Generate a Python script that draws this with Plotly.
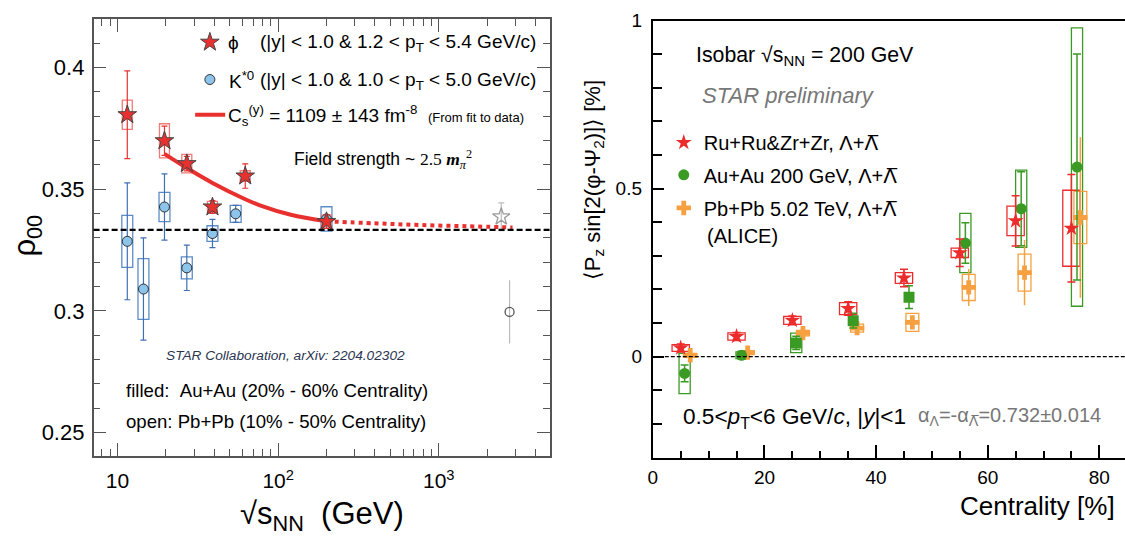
import plotly.graph_objects as go

FONT = "Liberation Sans, Arial, Helvetica, sans-serif"

# ---------------- data: left panel (rho00 vs sqrt(s_NN)) ----------------
phi_energy = [11.5, 19.6, 27, 39, 62.4, 200]
phi_rho = [0.3806, 0.3699, 0.3605, 0.3427, 0.3554, 0.3367]
phi_stat = [0.018, 0.006, 0.003, 0.0026, 0.005, 0.0028]
phi_sys = [0.006, 0.007, 0.0038, 0.0023, 0.0022, 0.0027]

kst_energy = [11.5, 14.5, 19.6, 27, 39, 54.4, 200]
kst_rho = [0.3286, 0.3090, 0.3427, 0.3177, 0.3318, 0.3399, 0.3378]
kst_stat = [0.024, 0.021, 0.0136, 0.0093, 0.0058, 0.0035, 0.0015]
kst_sys = [0.0107, 0.0125, 0.006, 0.0045, 0.0032, 0.0035, 0.005]

alice_phi_energy = [2450]
alice_phi_rho = [0.3387]
alice_phi_stat = [0.0057]

alice_kst_energy = [2760]
alice_kst_rho = [0.2996]
alice_kst_stat = [0.013]

fit_energy = [19.6, 27, 39, 62.4, 77, 120, 200]
fit_rho = [0.3645, 0.3587, 0.3526, 0.3459, 0.3434, 0.3395, 0.3368]
fit_ext_energy = [200, 400, 760, 1500, 2880]
fit_ext_rho = [0.3368, 0.3360, 0.3353, 0.3348, 0.3343]

left_xticks = [10, 100, 1000]
left_xticktext = ["10", "10<sup>2</sup>", "10<sup>3</sup>"]
left_yticks = [0.25, 0.3, 0.35, 0.4]
left_yticktext = ["0.25", "0.3", "0.35", "0.4"]

# ---------------- data: right panel (P_z vs centrality) ----------------
cent_ru = [5, 15, 25, 35, 45, 55, 65, 75]
pz_ru = [0.026, 0.060, 0.108, 0.143, 0.234, 0.309, 0.404, 0.382]
pz_ru_stat = [0.012, 0.012, 0.013, 0.02, 0.026, 0.041, 0.075, 0.16]
pz_ru_sys = [0.010, 0.011, 0.012, 0.018, 0.016, 0.014, 0.044, 0.113]

cent_au = [5.7, 15.9, 25.7, 35.9, 45.9, 56, 66, 76]
pz_au = [-0.050, 0.004, 0.041, 0.107, 0.177, 0.338, 0.440, 0.564]
pz_au_stat = [0.025, 0.012, 0.02, 0.022, 0.034, 0.06, 0.11, 0.336]
pz_au_sys = [0.06, 0.01, 0.029, 0.0, 0.0, 0.088, 0.115, 0.414]
au_symbols = ["circle", "circle", "square", "square", "square", "circle", "circle", "circle"]

cent_pb = [6.7, 17.0, 26.9, 36.6, 46.5, 56.6, 66.6, 76.6]
pz_pb = [0.004, 0.012, 0.070, 0.085, 0.102, 0.206, 0.250, 0.414]
pz_pb_stat = [0.008, 0.008, 0.01, 0.01, 0.012, 0.055, 0.097, 0.239]
pz_pb_sys = [0.006, 0.006, 0.008, 0.012, 0.027, 0.039, 0.055, 0.0775]

right_xticks = [0, 20, 40, 60, 80]
right_yticks = [0, 0.5, 1]
right_yticktext = ["0", "0.5", "1"]

# ---------------- styles ----------------
RED = "#e8312f"
RED_BOX = "#f07a78"
BLUE_FILL = "#8cc4ec"
BLUE = "#3f6fb2"
BLUE_BOX = "#5b8cc8"
GRAY = "#9a9a9a"

R_RED = "#ec2c2c"
R_GREEN = "#3b9a23"
R_ORANGE = "#f6a040"

W, H = 1125, 537
L_DOM_X = [89 / W, 547 / W]
L_DOM_Y = [1 - 454 / H, 1 - 9 / H]
R_DOM_X = [650.7 / W, 1.0]
R_DOM_Y = [1 - 456 / H, 1 - 10.7 / H]

LBAR = "<span style='font-family:DejaVu Sans'>Λ\u0305</span>"

fig = go.Figure()


def add_boxes(xs, ys, sy, halfw, color, xref, yref, log=False, width=1.3):
    for x, y, s in zip(xs, ys, sy):
        if s <= 0:
            continue
        if log:
            x0, x1 = x * 10 ** (-halfw), x * 10 ** halfw
        else:
            x0, x1 = x - halfw, x + halfw
        fig.add_shape(type="rect", xref=xref, yref=yref,
                      x0=x0, x1=x1, y0=y - s, y1=y + s,
                      line=dict(color=color, width=width),
                      fillcolor="rgba(0,0,0,0)", layer="below")


# ---- left panel ----
add_boxes(kst_energy, kst_rho, kst_sys, 0.034, BLUE_BOX, "x", "y", log=True)
add_boxes(phi_energy, phi_rho, phi_sys, 0.031, RED_BOX, "x", "y", log=True)

fig.add_shape(type="line", xref="x domain", yref="y", x0=0, x1=1, y0=1 / 3, y1=1 / 3,
              line=dict(color="black", width=2.2, dash="6px,3px"))

fig.add_trace(go.Scatter(
    x=kst_energy, y=kst_rho, mode="markers", xaxis="x", yaxis="y",
    error_y=dict(type="data", array=kst_stat, color=BLUE, thickness=1.2, width=3),
    marker=dict(symbol="circle", size=10, color=BLUE_FILL, line=dict(color="#333", width=1)),
    name="\u00a0", legend="legend2"))

fig.add_trace(go.Scatter(
    x=fit_energy, y=fit_rho, mode="lines", xaxis="x", yaxis="y", line_shape="spline",
    line=dict(color=RED, width=4), name="\u00a0", legend="legend3"))
fig.add_trace(go.Scatter(
    x=fit_ext_energy, y=fit_ext_rho, mode="lines", xaxis="x", yaxis="y", line_shape="spline",
    line=dict(color=RED, width=4, dash="dot"), showlegend=False, hoverinfo="skip"))

fig.add_trace(go.Scatter(
    x=phi_energy, y=phi_rho, mode="markers", xaxis="x", yaxis="y",
    error_y=dict(type="data", array=phi_stat, color=RED, thickness=1.2, width=3),
    marker=dict(symbol="star", size=14, color=RED, line=dict(color="#444", width=1)),
    name="\u00a0", legend="legend"))

fig.add_trace(go.Scatter(
    x=alice_phi_energy, y=alice_phi_rho, mode="markers", xaxis="x", yaxis="y",
    error_y=dict(type="data", array=alice_phi_stat, color="#bbbbbb", thickness=1.2, width=3),
    marker=dict(symbol="star-open", size=13, color=GRAY, line=dict(width=1.3)),
    showlegend=False))
fig.add_trace(go.Scatter(
    x=alice_kst_energy, y=alice_kst_rho, mode="markers", xaxis="x", yaxis="y",
    error_y=dict(type="data", array=alice_kst_stat, color="#bbbbbb", thickness=1.2, width=0),
    marker=dict(symbol="circle-open", size=9, color="#555", line=dict(width=1.3)),
    showlegend=False))

# ---- right panel ----
add_boxes(cent_au, pz_au, pz_au_sys, 1.0, R_GREEN, "x2", "y2")
add_boxes(cent_pb, pz_pb, pz_pb_sys, 1.15, R_ORANGE, "x2", "y2")
add_boxes(cent_ru, pz_ru, pz_ru_sys, 1.55, R_RED, "x2", "y2")

fig.add_shape(type="line", xref="x2 domain", yref="y2", x0=0, x1=1, y0=0, y1=0,
              line=dict(color="black", width=1.3, dash="4px,2px"))

fig.add_trace(go.Scatter(
    x=cent_pb, y=pz_pb, mode="markers", xaxis="x2", yaxis="y2",
    error_y=dict(type="data", array=pz_pb_stat, color=R_ORANGE, thickness=1.5, width=0),
    marker=dict(symbol="cross", size=12, color=R_ORANGE),
    name="Pb+Pb 5.02 TeV, Λ+" + LBAR, legend="legend6"))
fig.add_trace(go.Scatter(
    x=cent_au, y=pz_au, mode="markers", xaxis="x2", yaxis="y2",
    error_y=dict(type="data", array=pz_au_stat, color=R_GREEN, thickness=1.5, width=4),
    marker=dict(symbol=au_symbols, size=11, color=R_GREEN),
    name="Au+Au 200 GeV, Λ+" + LBAR, legend="legend5"))
fig.add_trace(go.Scatter(
    x=cent_ru, y=pz_ru, mode="markers", xaxis="x2", yaxis="y2",
    error_y=dict(type="data", array=pz_ru_stat, color=R_RED, thickness=1.5, width=4),
    marker=dict(symbol="star", size=12, color=R_RED),
    name="Ru+Ru&amp;Zr+Zr, Λ+" + LBAR, legend="legend4"))

# ---------------- layout ----------------
ax_common = dict(showgrid=False, zeroline=False, showline=True, ticks="inside")

fig.update_layout(
    width=W, height=H, autosize=False,
    margin=dict(l=0, r=0, t=0, b=0),
    paper_bgcolor="white", plot_bgcolor="white",
    font=dict(family=FONT, color="black"),
    xaxis=dict(**ax_common, type="log", domain=L_DOM_X, anchor="y",
               range=[0.851, 3.69], tickmode="array", tickvals=left_xticks,
               ticktext=left_xticktext, ticklen=13, tickwidth=1.2, tickcolor="#555",
               linecolor="#555", linewidth=1.5, mirror="ticks",
               tickfont=dict(size=21), ticklabelstandoff=6,
               minor=dict(ticks="inside", ticklen=7, tickcolor="#555", tickwidth=1.2,
                          tickmode="array",
                          tickvals=[7, 8, 9, 20, 30, 40, 50, 60, 70, 80, 90,
                                    200, 300, 400, 500, 600, 700, 800, 900, 2000, 3000, 4000])),
    yaxis=dict(**ax_common, domain=L_DOM_Y, anchor="x", range=[0.2406, 0.42],
               tickmode="array", tickvals=left_yticks, ticktext=left_yticktext,
               ticklen=13, tickwidth=1.2, tickcolor="#555", linecolor="#555",
               linewidth=1.5, mirror="ticks", tickfont=dict(size=22), ticklabelstandoff=3,
               minor=dict(ticks="inside", ticklen=7, tickcolor="#555", tickwidth=1.2, dtick=0.01)),
    xaxis2=dict(**ax_common, domain=R_DOM_X, anchor="y2", range=[0, 84.6],
                tickmode="array", tickvals=right_xticks, ticklen=13, tickwidth=1.5,
                tickcolor="black", linecolor="black", linewidth=2, mirror=True,
                tickfont=dict(size=19), ticklabelstandoff=2,
                minor=dict(ticks="inside", ticklen=7, tickcolor="black", tickwidth=1.5, dtick=5)),
    yaxis2=dict(**ax_common, domain=R_DOM_Y, anchor="x2", range=[-0.3, 1.0],
                tickmode="array", tickvals=right_yticks, ticktext=right_yticktext,
                ticklen=11, tickwidth=1.5, tickcolor="black", linecolor="black", linewidth=2,
                tickfont=dict(size=19), ticklabelstandoff=5,
                minor=dict(ticks="inside", ticklen=9, tickcolor="black", tickwidth=1.5, dtick=0.1)),
)

leg_base = dict(bgcolor="rgba(0,0,0,0)", borderwidth=0, xanchor="left", yanchor="middle",
                itemclick=False, itemdoubleclick=False)
fig.update_layout(
    legend=dict(**leg_base, x=185.7 / W, y=1 - 33 / H, font=dict(size=19, family=FONT)),
    legend2=dict(**leg_base, x=185.7 / W, y=1 - 71 / H, font=dict(size=19, family=FONT)),
    legend3=dict(**leg_base, x=186 / W, y=1 - 107 / H, font=dict(size=19, family=FONT)),
    legend4=dict(**leg_base, x=661.7 / W, y=1 - 135 / H, font=dict(size=20, family=FONT)),
    legend5=dict(**leg_base, x=661.7 / W, y=1 - 168 / H, font=dict(size=20, family=FONT)),
    legend6=dict(**leg_base, x=661.7 / W, y=1 - 201.7 / H, font=dict(size=20, family=FONT)),
)


def ann(text, x, y, size, xanchor="left", yanchor="middle", color="black", angle=0, family=FONT):
    fig.add_annotation(text=text, x=x / W, y=1 - y / H, xref="paper", yref="paper",
                       xanchor=xanchor, yanchor=yanchor, showarrow=False, textangle=angle,
                       font=dict(size=size, color=color, family=family))


# left panel legend texts
ann("ϕ", 222, 33, 19)
ann("(|y| &lt; 1.0 &amp; 1.2 &lt; p<sub>T</sub> &lt; 5.4 GeV/c)", 254, 34, 19)
ann("K<sup>*0</sup>", 223, 71, 19)
ann("(|y| &lt; 1.0 &amp; 1.0 &lt; p<sub>T</sub> &lt; 5.0 GeV/c)", 254, 72, 19)
ann("C<sub>s</sub><sup>(y)</sup> = 1109 ± 143 fm<sup>-8</sup>\u00a0\u00a0<span style='font-size:13px'>(From fit to data)</span>",
    222, 107, 19)

# left panel texts
ann("Field strength ~ <span style='font-family:Liberation Serif'>2.5 <i><b>m</b></i><sub><i>π</i></sub><sup>2</sup></span>",
    288, 152, 17.5)
ann("<i>STAR Collaboration, arXiv: 2204.02302</i>", 160, 352, 13.7, color="#2a3550")
ann("filled:\u00a0\u00a0Au+Au (20% - 60% Centrality)", 119.6, 388, 18.6)
ann("open: Pb+Pb (10% - 50% Centrality)", 119.6, 419, 18.6)
ann("ρ<sub>00</sub>", 22, 230, 31, xanchor="center", angle=-90)
ann("√s<sub>NN</sub>\u00a0\u00a0(GeV)", 318.7, 516, 31, xanchor="center")

# right panel texts
ann("Isobar √s<sub>NN</sub> = 200 GeV", 692, 46.7, 21.3)
ann("<i>STAR preliminary</i>", 698, 87, 22, color="#777777")
ann("(ALICE)", 703, 230, 20)
ann("0.5&lt;<i>p</i><sub>T</sub>&lt;6 GeV/<i>c</i>, |<i>y</i>|&lt;1", 679, 416, 22.6)
ann("α<sub>Λ</sub>=-α<sub>" + LBAR + "</sub>=0.732±0.014", 915.5, 414, 20, color="#777777")
ann("Centrality [%]", 1117, 505, 26, xanchor="right")
ann("⟨P<sub>z</sub> sin[2(φ-Ψ<sub>2</sub>)]⟩ [%]", 591, 173, 22, xanchor="center", angle=-90)

fig.write_html("out.html")
